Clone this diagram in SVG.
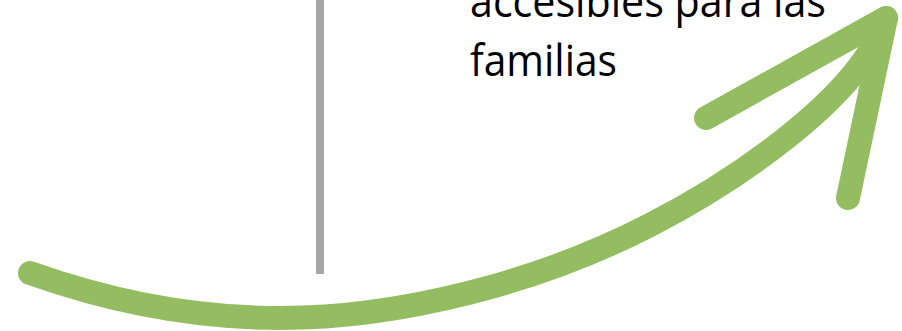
<svg xmlns="http://www.w3.org/2000/svg" width="902" height="331" viewBox="0 0 902 331">
  <style>
    .txt { font-family: "Open Sans", "Liberation Sans", Arial, sans-serif; font-size: 43px; fill: #000000; }
    .arrow { fill: none; stroke: #94BC61; stroke-width: 24; stroke-linecap: round; stroke-linejoin: round; }
    .divider { stroke: #A6A6A6; stroke-width: 8; fill: none; }
  </style>
  <rect width="902" height="331" fill="#FFFFFF"/>
  <g id="divider">
    <line class="divider" x1="320" y1="0" x2="320" y2="274"/>
  </g>
  <g id="label">
    <text class="txt" x="470" y="17" textLength="356" lengthAdjust="spacingAndGlyphs">accesibles para las</text>
    <text class="txt" x="470" y="76" textLength="147" lengthAdjust="spacingAndGlyphs">familias</text>
  </g>
  <g id="connectors">
    <path class="arrow" d="M30,273 C120,305 200,318 280,318 C400,318 540,282 650,225 C720,189 858,103 886,18"/>
    <path class="arrow" d="M706,118 L886,18 L848,198"/>
  </g>
</svg>
